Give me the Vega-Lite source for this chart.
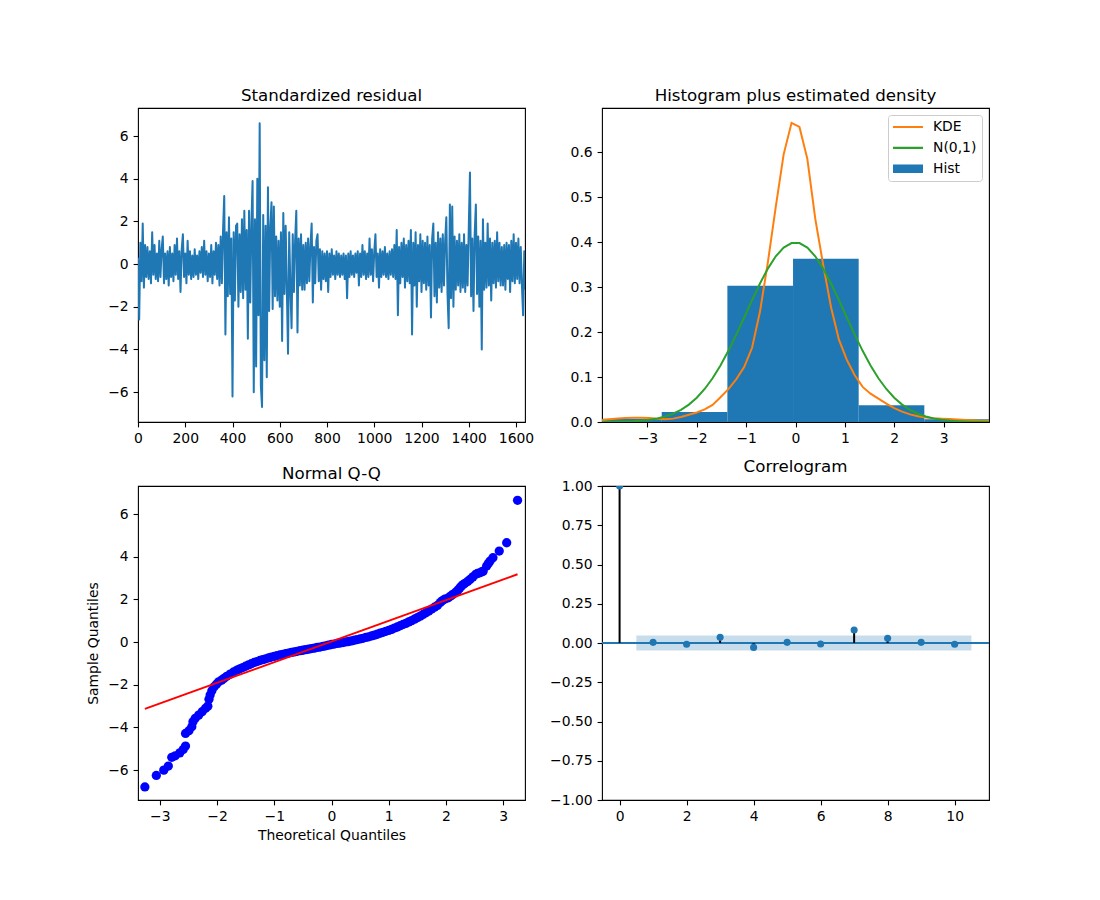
{
"$schema": "https://vega.github.io/schema/vega-lite/v6.json",
"autosize": {"type": "none"},
"padding": {"left": 138, "top": 108, "right": 962, "bottom": 792},
"background": "white",
"config": {
  "font": "DejaVu Sans",
  "view": {"stroke": "black", "strokeWidth": 1.1},
  "axis": {"domain": false, "grid": false, "ticks": true, "tickColor": "black", "tickSize": 4.9, "tickWidth": 1.1, "labelFont": "DejaVu Sans", "labelFontSize": 13.9, "labelColor": "black", "labelPadding": 4.9, "titleFont": "DejaVu Sans", "titleFontSize": 13.9, "titleFontWeight": "normal", "titleColor": "black", "labelFlush": false, "labelOverlap": false},
  "title": {"font": "DejaVu Sans", "fontSize": 16.67, "fontWeight": "normal", "color": "black", "offset": 3, "baseline": "alphabetic", "anchor": "middle", "frame": "group"}
},
"columns": 2,
"spacing": {"row": 64, "column": 77},
"bounds": "flush",
"resolve": {"scale": {"color": "independent"}, "legend": {"color": "independent"}},
"concat": [
{
  "width": 387, "height": 314,
  "title": "Standardized residual",
  "data": {"values": [
{"t":0,"r":0.3},{"t":5,"r":-2.6},{"t":10,"r":1.0},{"t":15,"r":-0.8},{"t":20,"r":1.9},{"t":25,"r":-1.1},{"t":30,"r":0.9},{"t":35,"r":-0.6},{"t":40,"r":0.8},{"t":45,"r":-0.7},
{"t":50,"r":0.6},{"t":55,"r":-0.9},{"t":60,"r":1.5},{"t":65,"r":-0.5},{"t":70,"r":0.9},{"t":75,"r":-0.7},{"t":80,"r":0.5},{"t":85,"r":-0.8},{"t":90,"r":1.1},{"t":95,"r":-0.6},
{"t":100,"r":0.7},{"t":105,"r":1.3},{"t":110,"r":-0.9},{"t":115,"r":0.5},{"t":120,"r":-0.7},{"t":125,"r":0.6},{"t":130,"r":-1.0},{"t":135,"r":0.8},{"t":140,"r":-0.6},{"t":145,"r":0.5},
{"t":150,"r":-0.8},{"t":155,"r":0.9},{"t":160,"r":-0.5},{"t":165,"r":1.2},{"t":170,"r":-0.7},{"t":175,"r":0.6},{"t":180,"r":-1.3},{"t":185,"r":0.7},{"t":190,"r":1.4},{"t":195,"r":-0.6},
{"t":200,"r":0.5},{"t":205,"r":-0.9},{"t":210,"r":1.1},{"t":215,"r":-0.5},{"t":220,"r":0.6},{"t":225,"r":-0.7},{"t":230,"r":0.4},{"t":235,"r":-0.6},{"t":240,"r":0.7},{"t":245,"r":-0.5},
{"t":250,"r":0.4},{"t":255,"r":-0.7},{"t":260,"r":0.6},{"t":265,"r":-0.4},{"t":270,"r":0.8},{"t":275,"r":-0.6},{"t":280,"r":1.1},{"t":285,"r":-0.5},{"t":290,"r":0.6},{"t":295,"r":-0.8},
{"t":300,"r":0.5},{"t":305,"r":-0.6},{"t":310,"r":0.9},{"t":315,"r":-0.9},{"t":320,"r":0.6},{"t":325,"r":-0.5},{"t":330,"r":1.0},{"t":335,"r":-0.7},{"t":340,"r":0.9},{"t":345,"r":-1.0},
{"t":350,"r":1.3},{"t":355,"r":-0.9},{"t":360,"r":1.6},{"t":365,"r":3.2},{"t":370,"r":-3.3},{"t":375,"r":1.5},{"t":380,"r":-1.5},{"t":385,"r":2.2},{"t":390,"r":-1.4},{"t":395,"r":1.2},
{"t":400,"r":-6.2},{"t":405,"r":1.5},{"t":410,"r":-1.7},{"t":415,"r":1.8},{"t":420,"r":1.9},{"t":425,"r":-2.0},{"t":430,"r":1.4},{"t":435,"r":-1.3},{"t":440,"r":2.1},{"t":445,"r":-1.6},
{"t":450,"r":2.5},{"t":455,"r":-1.2},{"t":460,"r":1.6},{"t":465,"r":-3.5},{"t":470,"r":2.5},{"t":475,"r":-1.8},{"t":480,"r":1.9},{"t":485,"r":3.9},{"t":490,"r":-6.0},{"t":495,"r":2.1},
{"t":500,"r":-4.8},{"t":505,"r":4.0},{"t":510,"r":-2.4},{"t":515,"r":6.6},{"t":520,"r":-5.7},{"t":525,"r":-6.7},{"t":530,"r":2.3},{"t":535,"r":-4.5},{"t":540,"r":1.8},{"t":545,"r":-5.3},
{"t":550,"r":3.6},{"t":555,"r":-2.2},{"t":560,"r":1.7},{"t":565,"r":2.9},{"t":570,"r":-2.1},{"t":575,"r":2.7},{"t":580,"r":-1.5},{"t":585,"r":1.3},{"t":590,"r":-1.7},{"t":595,"r":1.1},
{"t":600,"r":-2.0},{"t":605,"r":1.5},{"t":610,"r":-3.6},{"t":615,"r":2.4},{"t":620,"r":-1.4},{"t":625,"r":1.8},{"t":630,"r":-1.2},{"t":635,"r":-4.2},{"t":640,"r":1.5},{"t":645,"r":-1.1},
{"t":650,"r":-3.0},{"t":655,"r":1.4},{"t":660,"r":-1.3},{"t":665,"r":1.1},{"t":670,"r":2.5},{"t":675,"r":-3.2},{"t":680,"r":1.2},{"t":685,"r":-1.0},{"t":690,"r":1.4},{"t":695,"r":-1.2},
{"t":700,"r":0.9},{"t":705,"r":-1.2},{"t":710,"r":1.0},{"t":715,"r":-0.9},{"t":720,"r":1.2},{"t":725,"r":-0.8},{"t":730,"r":0.9},{"t":735,"r":1.9},{"t":740,"r":-1.8},{"t":745,"r":0.8},
{"t":750,"r":-0.9},{"t":755,"r":1.1},{"t":760,"r":1.4},{"t":765,"r":-0.8},{"t":770,"r":0.7},{"t":775,"r":-1.2},{"t":780,"r":0.6},{"t":785,"r":-0.7},{"t":790,"r":0.5},{"t":795,"r":-0.8},
{"t":800,"r":0.6},{"t":805,"r":-1.3},{"t":810,"r":0.5},{"t":815,"r":-0.6},{"t":820,"r":0.7},{"t":825,"r":-0.5},{"t":830,"r":0.4},{"t":835,"r":-0.7},{"t":840,"r":0.6},{"t":845,"r":-0.5},
{"t":850,"r":0.5},{"t":855,"r":-0.6},{"t":860,"r":0.4},{"t":865,"r":-0.5},{"t":870,"r":0.5},{"t":875,"r":-0.7},{"t":880,"r":0.4},{"t":885,"r":-1.6},{"t":890,"r":0.5},{"t":895,"r":-0.6},
{"t":900,"r":0.6},{"t":905,"r":-0.5},{"t":910,"r":0.4},{"t":915,"r":-0.6},{"t":920,"r":0.5},{"t":925,"r":-0.4},{"t":930,"r":0.6},{"t":935,"r":-1.0},{"t":940,"r":0.5},{"t":945,"r":-0.6},
{"t":950,"r":0.9},{"t":955,"r":-0.5},{"t":960,"r":0.6},{"t":965,"r":-0.7},{"t":970,"r":0.5},{"t":975,"r":-0.6},{"t":980,"r":1.2},{"t":985,"r":-0.5},{"t":990,"r":0.7},{"t":995,"r":-0.8},
{"t":1000,"r":0.6},{"t":1005,"r":1.4},{"t":1010,"r":-0.6},{"t":1015,"r":0.5},{"t":1020,"r":-1.1},{"t":1025,"r":0.7},{"t":1030,"r":-0.6},{"t":1035,"r":0.6},{"t":1040,"r":-0.5},{"t":1045,"r":0.8},
{"t":1050,"r":-0.6},{"t":1055,"r":0.5},{"t":1060,"r":-0.7},{"t":1065,"r":0.6},{"t":1070,"r":-0.5},{"t":1075,"r":0.7},{"t":1080,"r":-0.6},{"t":1085,"r":0.9},{"t":1090,"r":-0.7},{"t":1095,"r":1.6},
{"t":1100,"r":-2.4},{"t":1105,"r":0.8},{"t":1110,"r":-0.9},{"t":1115,"r":1.0},{"t":1120,"r":-0.6},{"t":1125,"r":1.2},{"t":1130,"r":-1.1},{"t":1135,"r":0.9},{"t":1140,"r":-0.8},{"t":1145,"r":1.1},
{"t":1150,"r":-0.9},{"t":1155,"r":1.6},{"t":1160,"r":-3.3},{"t":1165,"r":1.0},{"t":1170,"r":-1.0},{"t":1175,"r":1.5},{"t":1180,"r":-2.0},{"t":1185,"r":0.9},{"t":1190,"r":-0.8},{"t":1195,"r":1.4},
{"t":1200,"r":-1.3},{"t":1205,"r":1.1},{"t":1210,"r":-0.9},{"t":1215,"r":1.0},{"t":1220,"r":-1.2},{"t":1225,"r":1.3},{"t":1230,"r":-1.0},{"t":1235,"r":0.9},{"t":1240,"r":-2.5},{"t":1245,"r":1.2},
{"t":1250,"r":1.9},{"t":1255,"r":-1.5},{"t":1260,"r":1.0},{"t":1265,"r":-1.8},{"t":1270,"r":1.5},{"t":1275,"r":-1.1},{"t":1280,"r":1.2},{"t":1285,"r":-1.3},{"t":1290,"r":1.4},{"t":1295,"r":-1.0},
{"t":1300,"r":1.1},{"t":1305,"r":2.2},{"t":1310,"r":-1.4},{"t":1315,"r":-3.0},{"t":1320,"r":2.8},{"t":1325,"r":-1.6},{"t":1330,"r":2.7},{"t":1335,"r":-2.0},{"t":1340,"r":1.3},{"t":1345,"r":-1.2},
{"t":1350,"r":1.1},{"t":1355,"r":-1.0},{"t":1360,"r":1.4},{"t":1365,"r":-1.3},{"t":1370,"r":1.0},{"t":1375,"r":-1.1},{"t":1380,"r":1.4},{"t":1385,"r":-1.3},{"t":1390,"r":0.9},{"t":1395,"r":-1.0},
{"t":1400,"r":1.7},{"t":1405,"r":4.3},{"t":1410,"r":-1.5},{"t":1415,"r":1.2},{"t":1420,"r":-2.2},{"t":1425,"r":1.4},{"t":1430,"r":2.8},{"t":1435,"r":-1.4},{"t":1440,"r":1.3},{"t":1445,"r":-2.0},
{"t":1450,"r":1.1},{"t":1455,"r":-4.0},{"t":1460,"r":2.1},{"t":1465,"r":-1.2},{"t":1470,"r":1.0},{"t":1475,"r":-1.1},{"t":1480,"r":1.9},{"t":1485,"r":-1.0},{"t":1490,"r":1.2},{"t":1495,"r":-1.7},
{"t":1500,"r":1.0},{"t":1505,"r":-0.9},{"t":1510,"r":1.1},{"t":1515,"r":-1.1},{"t":1520,"r":1.5},{"t":1525,"r":-0.8},{"t":1530,"r":1.0},{"t":1535,"r":-1.0},{"t":1540,"r":0.8},{"t":1545,"r":-1.0},
{"t":1550,"r":0.9},{"t":1555,"r":-1.2},{"t":1560,"r":1.0},{"t":1565,"r":-0.7},{"t":1570,"r":0.9},{"t":1575,"r":-1.3},{"t":1580,"r":1.1},{"t":1585,"r":-0.8},{"t":1590,"r":1.4},{"t":1595,"r":-0.9},
{"t":1600,"r":1.0},{"t":1605,"r":-0.7},{"t":1610,"r":1.2},{"t":1615,"r":-0.9},{"t":1620,"r":0.8},{"t":1625,"r":-1.0},{"t":1630,"r":-2.4},{"t":1635,"r":0.6},{"t":1638,"r":-1.2}
  ]},
  "mark": {"type": "line", "color": "#1f77b4", "strokeWidth": 2, "strokeJoin": "round", "clip": true},
  "encoding": {
    "x": {"field": "t", "type": "quantitative", "scale": {"domain": [0, 1638], "nice": false, "zero": false}, "axis": {"title": null, "values": [0,200,400,600,800,1000,1200,1400,1600], "format": "d"}},
    "y": {"field": "r", "type": "quantitative", "scale": {"domain": [-7.4, 7.32], "nice": false, "zero": false}, "axis": {"title": null, "values": [-6,-4,-2,0,2,4,6], "format": "d"}}
  }
},
{
  "width": 387, "height": 314,
  "title": "Histogram plus estimated density",
  "layer": [
    {
      "data": {"values": [
        {"x0": -5.37, "x1": -4.04, "d": 0.004, "s": "Hist"},
        {"x0": -4.04, "x1": -2.71, "d": 0.007, "s": "Hist"},
        {"x0": -2.71, "x1": -1.38, "d": 0.022, "s": "Hist"},
        {"x0": -1.38, "x1": -0.05, "d": 0.303, "s": "Hist"},
        {"x0": -0.05, "x1": 1.28, "d": 0.363, "s": "Hist"},
        {"x0": 1.28, "x1": 2.61, "d": 0.037, "s": "Hist"},
        {"x0": 2.61, "x1": 3.94, "d": 0.006, "s": "Hist"}
      ]},
      "mark": {"type": "rect", "clip": true},
      "encoding": {
        "x": {"field": "x0", "type": "quantitative", "scale": {"domain": [-3.92, 3.92], "nice": false, "zero": false}, "axis": {"title": null, "values": [-3,-2,-1,0,1,2,3], "format": "d"}},
        "x2": {"field": "x1"},
        "y": {"field": "d", "type": "quantitative", "scale": {"domain": [0, 0.698], "nice": false}, "axis": {"title": null, "values": [0,0.1,0.2,0.3,0.4,0.5,0.6], "format": ".1f"}},
        "y2": {"datum": 0},
        "color": {"field": "s", "type": "nominal", "scale": {"domain": ["KDE", "N(0,1)", "Hist"], "range": ["#ff7f0e", "#2ca02c", "#1f77b4"]},
          "legend": {"title": null, "orient": "top-right", "offset": 7, "fillColor": "white", "strokeColor": "#cccccc", "cornerRadius": 3, "padding": 5, "labelFont": "DejaVu Sans", "labelFontSize": 13.9, "labelColor": "black", "labelOffset": 10, "symbolSize": 900, "clipHeight": 14, "rowPadding": 6.9, "symbolStrokeWidth": 0,
            "encode": {"symbols": {"update": {
              "shape": {"signal": "datum.value === 'Hist' ? 'M-1,-0.28H1V0.28H-1Z' : 'M-1,-0.07H1V0.07H-1Z'"},
              "fill": {"signal": "datum.value === 'Hist' ? '#1f77b4' : datum.value === 'KDE' ? '#ff7f0e' : '#2ca02c'"},
              "stroke": {"value": "transparent"},
              "opacity": {"value": 1}
            }}}}
        }
      }
    },
    {
      "data": {"values": [
        {"x":-3.92,"v":0.004,"s":"KDE"},{"x":-3.76,"v":0.006,"s":"KDE"},{"x":-3.6,"v":0.008,"s":"KDE"},{"x":-3.44,"v":0.009,"s":"KDE"},{"x":-3.28,"v":0.0095,"s":"KDE"},
        {"x":-3.12,"v":0.0095,"s":"KDE"},{"x":-2.96,"v":0.009,"s":"KDE"},{"x":-2.8,"v":0.007,"s":"KDE"},{"x":-2.64,"v":0.006,"s":"KDE"},{"x":-2.48,"v":0.0075,"s":"KDE"},
        {"x":-2.32,"v":0.011,"s":"KDE"},{"x":-2.16,"v":0.016,"s":"KDE"},{"x":-2.0,"v":0.021,"s":"KDE"},{"x":-1.84,"v":0.028,"s":"KDE"},{"x":-1.68,"v":0.038,"s":"KDE"},
        {"x":-1.52,"v":0.055,"s":"KDE"},{"x":-1.36,"v":0.073,"s":"KDE"},{"x":-1.2,"v":0.095,"s":"KDE"},{"x":-1.04,"v":0.122,"s":"KDE"},{"x":-0.88,"v":0.165,"s":"KDE"},
        {"x":-0.72,"v":0.245,"s":"KDE"},{"x":-0.56,"v":0.355,"s":"KDE"},{"x":-0.4,"v":0.478,"s":"KDE"},{"x":-0.24,"v":0.595,"s":"KDE"},{"x":-0.08,"v":0.665,"s":"KDE"},
        {"x":0.08,"v":0.656,"s":"KDE"},{"x":0.24,"v":0.585,"s":"KDE"},{"x":0.4,"v":0.452,"s":"KDE"},{"x":0.56,"v":0.35,"s":"KDE"},{"x":0.72,"v":0.255,"s":"KDE"},
        {"x":0.88,"v":0.183,"s":"KDE"},{"x":1.04,"v":0.138,"s":"KDE"},{"x":1.2,"v":0.104,"s":"KDE"},{"x":1.36,"v":0.078,"s":"KDE"},{"x":1.52,"v":0.063,"s":"KDE"},
        {"x":1.68,"v":0.052,"s":"KDE"},{"x":1.84,"v":0.041,"s":"KDE"},{"x":2.0,"v":0.031,"s":"KDE"},{"x":2.16,"v":0.023,"s":"KDE"},{"x":2.32,"v":0.017,"s":"KDE"},
        {"x":2.48,"v":0.013,"s":"KDE"},{"x":2.64,"v":0.01,"s":"KDE"},{"x":2.8,"v":0.0085,"s":"KDE"},{"x":2.96,"v":0.0075,"s":"KDE"},{"x":3.12,"v":0.0065,"s":"KDE"},
        {"x":3.28,"v":0.0055,"s":"KDE"},{"x":3.44,"v":0.0045,"s":"KDE"},{"x":3.6,"v":0.0037,"s":"KDE"},{"x":3.76,"v":0.003,"s":"KDE"},{"x":3.92,"v":0.0025,"s":"KDE"},
        {"x":-3.92,"v":0.0002,"s":"N(0,1)"},{"x":-3.76,"v":0.0003,"s":"N(0,1)"},{"x":-3.6,"v":0.0006,"s":"N(0,1)"},{"x":-3.44,"v":0.0011,"s":"N(0,1)"},{"x":-3.28,"v":0.0018,"s":"N(0,1)"},
        {"x":-3.12,"v":0.0031,"s":"N(0,1)"},{"x":-2.96,"v":0.005,"s":"N(0,1)"},{"x":-2.8,"v":0.0079,"s":"N(0,1)"},{"x":-2.64,"v":0.0122,"s":"N(0,1)"},{"x":-2.48,"v":0.0184,"s":"N(0,1)"},
        {"x":-2.32,"v":0.027,"s":"N(0,1)"},{"x":-2.16,"v":0.0387,"s":"N(0,1)"},{"x":-2.0,"v":0.054,"s":"N(0,1)"},{"x":-1.84,"v":0.0734,"s":"N(0,1)"},{"x":-1.68,"v":0.0973,"s":"N(0,1)"},
        {"x":-1.52,"v":0.1257,"s":"N(0,1)"},{"x":-1.36,"v":0.1582,"s":"N(0,1)"},{"x":-1.2,"v":0.1942,"s":"N(0,1)"},{"x":-1.04,"v":0.2323,"s":"N(0,1)"},{"x":-0.88,"v":0.2709,"s":"N(0,1)"},
        {"x":-0.72,"v":0.3079,"s":"N(0,1)"},{"x":-0.56,"v":0.341,"s":"N(0,1)"},{"x":-0.4,"v":0.3683,"s":"N(0,1)"},{"x":-0.24,"v":0.3876,"s":"N(0,1)"},{"x":-0.08,"v":0.3977,"s":"N(0,1)"},
        {"x":0.08,"v":0.3977,"s":"N(0,1)"},{"x":0.24,"v":0.3876,"s":"N(0,1)"},{"x":0.4,"v":0.3683,"s":"N(0,1)"},{"x":0.56,"v":0.341,"s":"N(0,1)"},{"x":0.72,"v":0.3079,"s":"N(0,1)"},
        {"x":0.88,"v":0.2709,"s":"N(0,1)"},{"x":1.04,"v":0.2323,"s":"N(0,1)"},{"x":1.2,"v":0.1942,"s":"N(0,1)"},{"x":1.36,"v":0.1582,"s":"N(0,1)"},{"x":1.52,"v":0.1257,"s":"N(0,1)"},
        {"x":1.68,"v":0.0973,"s":"N(0,1)"},{"x":1.84,"v":0.0734,"s":"N(0,1)"},{"x":2.0,"v":0.054,"s":"N(0,1)"},{"x":2.16,"v":0.0387,"s":"N(0,1)"},{"x":2.32,"v":0.027,"s":"N(0,1)"},
        {"x":2.48,"v":0.0184,"s":"N(0,1)"},{"x":2.64,"v":0.0122,"s":"N(0,1)"},{"x":2.8,"v":0.0079,"s":"N(0,1)"},{"x":2.96,"v":0.005,"s":"N(0,1)"},{"x":3.12,"v":0.0031,"s":"N(0,1)"},
        {"x":3.28,"v":0.0018,"s":"N(0,1)"},{"x":3.44,"v":0.0011,"s":"N(0,1)"},{"x":3.6,"v":0.0006,"s":"N(0,1)"},{"x":3.76,"v":0.0003,"s":"N(0,1)"},{"x":3.92,"v":0.0002,"s":"N(0,1)"}
      ]},
      "mark": {"type": "line", "strokeWidth": 2, "clip": true},
      "encoding": {
        "x": {"field": "x", "type": "quantitative"},
        "y": {"field": "v", "type": "quantitative"},
        "color": {"field": "s", "type": "nominal", "scale": {"domain": ["KDE", "N(0,1)", "Hist"], "range": ["#ff7f0e", "#2ca02c", "#1f77b4"]},
          "legend": {"title": null, "orient": "top-right", "offset": 7, "fillColor": "white", "strokeColor": "#cccccc", "cornerRadius": 3, "padding": 5, "labelFont": "DejaVu Sans", "labelFontSize": 13.9, "labelColor": "black", "labelOffset": 10, "symbolSize": 900, "clipHeight": 14, "rowPadding": 6.9, "symbolStrokeWidth": 0,
            "encode": {"symbols": {"update": {
              "shape": {"signal": "datum.value === 'Hist' ? 'M-1,-0.28H1V0.28H-1Z' : 'M-1,-0.07H1V0.07H-1Z'"},
              "fill": {"signal": "datum.value === 'Hist' ? '#1f77b4' : datum.value === 'KDE' ? '#ff7f0e' : '#2ca02c'"},
              "stroke": {"value": "transparent"},
              "opacity": {"value": 1}
            }}}}
        }
      }
    }
  ]
},
{
  "width": 387, "height": 314,
  "title": "Normal Q-Q",
  "layer": [
    {
      "data": {"values": [
        {"q":-3.26,"s":-6.79},{"q":-3.06,"s":-6.25},{"q":-2.93,"s":-6.0},{"q":-2.85,"s":-5.81},{"q":-2.79,"s":-5.4},{"q":-2.73,"s":-5.33},{"q":-2.65,"s":-5.19},{"q":-2.59,"s":-5.03},{"q":-2.55,"s":-4.87},
        {"q":-2.55,"s":-4.28},{"q":-2.49,"s":-4.15},{"q":-2.44,"s":-3.97},{"q":-2.42,"s":-3.73},{"q":-2.38,"s":-3.57},{"q":-2.32,"s":-3.42},{"q":-2.26,"s":-3.26},{"q":-2.2,"s":-3.1},{"q":-2.16,"s":-3.0},
        {"q":-2.14,"s":-2.68},{"q":-2.12,"s":-2.48},{"q":-2.09,"s":-2.28},{"q":-2.05,"s":-2.09},{"q":-2.01,"s":-1.97},{"q":-1.97,"s":-1.86},{"q":-1.92,"s":-1.78},{"q":-1.88,"s":-1.7},{"q":-1.83,"s":-1.6},
        {"q":-1.77,"s":-1.5},{"q":-1.71,"s":-1.4},{"q":-1.65,"s":-1.31},
        {"q":-1.6,"s":-1.25},{"q":-1.55,"s":-1.19},{"q":-1.5,"s":-1.13},{"q":-1.45,"s":-1.07},{"q":-1.4,"s":-1.01},{"q":-1.35,"s":-0.95},{"q":-1.3,"s":-0.91},{"q":-1.25,"s":-0.86},{"q":-1.2,"s":-0.82},
        {"q":-1.15,"s":-0.78},{"q":-1.1,"s":-0.74},{"q":-1.05,"s":-0.7},{"q":-1.0,"s":-0.67},{"q":-0.95,"s":-0.63},{"q":-0.9,"s":-0.6},{"q":-0.85,"s":-0.57},{"q":-0.8,"s":-0.54},{"q":-0.75,"s":-0.51},
        {"q":-0.7,"s":-0.48},{"q":-0.65,"s":-0.46},{"q":-0.6,"s":-0.43},{"q":-0.55,"s":-0.4},{"q":-0.5,"s":-0.38},{"q":-0.45,"s":-0.35},{"q":-0.4,"s":-0.33},{"q":-0.35,"s":-0.3},{"q":-0.3,"s":-0.28},
        {"q":-0.25,"s":-0.25},{"q":-0.2,"s":-0.23},{"q":-0.15,"s":-0.2},{"q":-0.1,"s":-0.17},{"q":-0.05,"s":-0.14},{"q":0.0,"s":-0.11},{"q":0.05,"s":-0.09},{"q":0.1,"s":-0.06},{"q":0.15,"s":-0.04},
        {"q":0.2,"s":-0.02},{"q":0.25,"s":0.01},{"q":0.3,"s":0.03},{"q":0.35,"s":0.06},{"q":0.4,"s":0.09},{"q":0.45,"s":0.12},{"q":0.5,"s":0.15},{"q":0.55,"s":0.18},{"q":0.6,"s":0.22},
        {"q":0.65,"s":0.25},{"q":0.7,"s":0.29},{"q":0.75,"s":0.33},{"q":0.8,"s":0.37},{"q":0.85,"s":0.42},{"q":0.9,"s":0.46},{"q":0.95,"s":0.51},{"q":1.0,"s":0.55},{"q":1.05,"s":0.6},
        {"q":1.1,"s":0.66},{"q":1.15,"s":0.71},{"q":1.2,"s":0.77},{"q":1.25,"s":0.83},{"q":1.3,"s":0.88},{"q":1.35,"s":0.95},{"q":1.4,"s":1.01},{"q":1.45,"s":1.08},{"q":1.5,"s":1.15},
        {"q":1.55,"s":1.22},{"q":1.6,"s":1.3},{"q":1.65,"s":1.38},{"q":1.7,"s":1.46},{"q":1.75,"s":1.55},{"q":1.8,"s":1.64},{"q":1.85,"s":1.72},{"q":1.9,"s":1.86},
        {"q":1.94,"s":1.95},{"q":1.98,"s":2.02},{"q":2.04,"s":2.08},{"q":2.08,"s":2.16},{"q":2.12,"s":2.24},{"q":2.17,"s":2.34},{"q":2.21,"s":2.44},{"q":2.24,"s":2.54},{"q":2.27,"s":2.63},
        {"q":2.3,"s":2.7},{"q":2.33,"s":2.76},{"q":2.38,"s":2.85},{"q":2.42,"s":2.94},{"q":2.47,"s":3.06},{"q":2.52,"s":3.18},{"q":2.55,"s":3.22},{"q":2.59,"s":3.25},{"q":2.62,"s":3.29},
        {"q":2.65,"s":3.33},{"q":2.71,"s":3.57},{"q":2.74,"s":3.69},{"q":2.77,"s":3.8},{"q":2.82,"s":3.96},{"q":2.93,"s":4.27},{"q":3.06,"s":4.66},{"q":3.25,"s":6.65}
      ]},
      "mark": {"type": "point", "shape": "circle", "filled": true, "color": "#0000ff", "opacity": 1, "size": 86, "clip": true},
      "encoding": {
        "x": {"field": "q", "type": "quantitative", "scale": {"domain": [-3.38, 3.38], "nice": false, "zero": false}, "axis": {"title": "Theoretical Quantiles", "values": [-3,-2,-1,0,1,2,3], "format": "d", "titlePadding": 5}},
        "y": {"field": "s", "type": "quantitative", "scale": {"domain": [-7.4, 7.32], "nice": false, "zero": false}, "axis": {"title": "Sample Quantiles", "values": [-6,-4,-2,0,2,4,6], "format": "d", "titlePadding": 7}}
      }
    },
    {
      "data": {"values": [{"q": -3.26, "s": -3.13}, {"q": 3.25, "s": 3.18}]},
      "mark": {"type": "line", "color": "#ff0000", "strokeWidth": 2, "clip": true},
      "encoding": {
        "x": {"field": "q", "type": "quantitative"},
        "y": {"field": "s", "type": "quantitative"}
      }
    }
  ]
},
{
  "width": 387, "height": 314,
  "title": "Correlogram",
  "layer": [
    {
      "data": {"values": [{"a": 0.5, "b": 10.5, "lo": -0.0484, "hi": 0.0484}]},
      "mark": {"type": "rect", "color": "#1f77b4", "opacity": 0.25},
      "encoding": {
        "x": {"field": "a", "type": "quantitative", "scale": {"domain": [-0.525, 11.025], "nice": false, "zero": false}, "axis": {"title": null, "values": [0,2,4,6,8,10], "format": "d"}},
        "x2": {"field": "b"},
        "y": {"field": "lo", "type": "quantitative", "scale": {"domain": [-1, 1], "nice": false, "zero": false}, "axis": {"title": null, "values": [-1,-0.75,-0.5,-0.25,0,0.25,0.5,0.75,1], "format": ".2f", "labelOverlap": false, "tickCount": 9}},
        "y2": {"field": "hi"}
      }
    },
    {
      "data": {"values": [{"z": 0}]},
      "mark": {"type": "rule", "color": "#1f77b4", "strokeWidth": 2},
      "encoding": {"y": {"field": "z", "type": "quantitative", "axis": {"title": null, "values": [-1,-0.75,-0.5,-0.25,0,0.25,0.5,0.75,1], "format": ".2f", "labelOverlap": false, "tickCount": 9}}}
    },
    {
      "data": {"values": [
        {"lag":0,"acf":1.0,"base":0},{"lag":1,"acf":0.004,"base":0},{"lag":2,"acf":-0.008,"base":0},{"lag":3,"acf":0.036,"base":0},{"lag":4,"acf":-0.028,"base":0},{"lag":5,"acf":0.004,"base":0},
        {"lag":6,"acf":-0.006,"base":0},{"lag":7,"acf":0.083,"base":0},{"lag":8,"acf":0.03,"base":0},{"lag":9,"acf":0.004,"base":0},{"lag":10,"acf":-0.008,"base":0}
      ]},
      "mark": {"type": "rule", "color": "black", "strokeWidth": 2},
      "encoding": {
        "x": {"field": "lag", "type": "quantitative", "axis": {"title": null, "values": [0,2,4,6,8,10], "format": "d"}},
        "y": {"field": "acf", "type": "quantitative", "axis": {"title": null, "values": [-1,-0.75,-0.5,-0.25,0,0.25,0.5,0.75,1], "format": ".2f", "labelOverlap": false, "tickCount": 9}},
        "y2": {"field": "base"}
      }
    },
    {
      "data": {"values": [
        {"lag":0,"acf":1.0},{"lag":1,"acf":0.004},{"lag":2,"acf":-0.008},{"lag":3,"acf":0.036},{"lag":4,"acf":-0.028},{"lag":5,"acf":0.004},
        {"lag":6,"acf":-0.006},{"lag":7,"acf":0.083},{"lag":8,"acf":0.03},{"lag":9,"acf":0.004},{"lag":10,"acf":-0.008}
      ]},
      "mark": {"type": "point", "shape": "circle", "filled": true, "color": "#1f77b4", "opacity": 1, "size": 50, "clip": true},
      "encoding": {
        "x": {"field": "lag", "type": "quantitative", "axis": {"title": null, "values": [0,2,4,6,8,10], "format": "d"}},
        "y": {"field": "acf", "type": "quantitative", "axis": {"title": null, "values": [-1,-0.75,-0.5,-0.25,0,0.25,0.5,0.75,1], "format": ".2f", "labelOverlap": false, "tickCount": 9}}
      }
    }
  ]
}
]
}
